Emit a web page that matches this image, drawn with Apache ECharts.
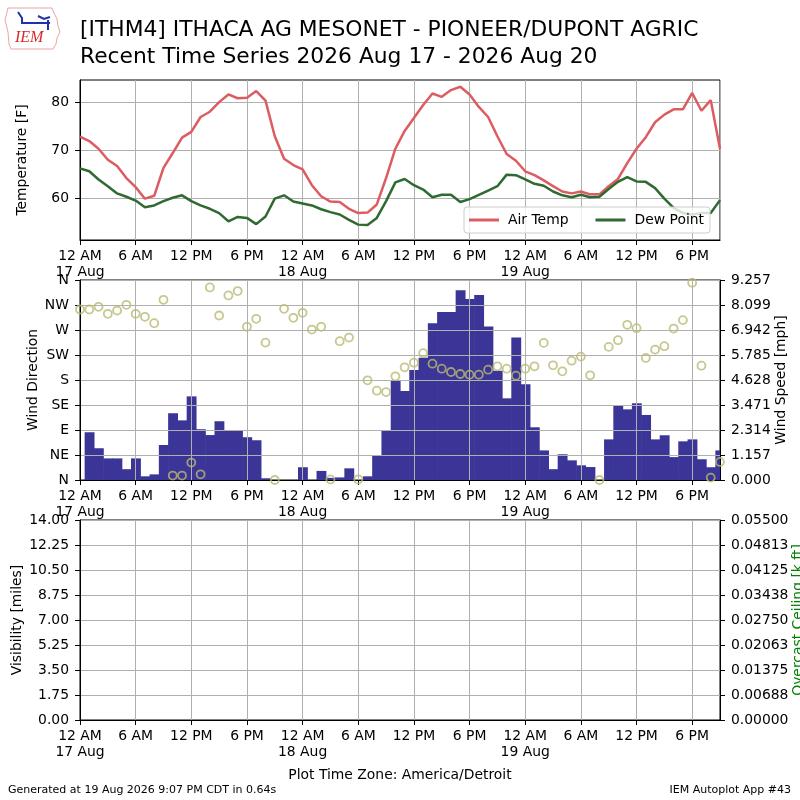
<!DOCTYPE html>
<html style="height: 100%">
<head>
    <meta charset="utf-8">
    <script type="text/javascript" src="https://cdn.jsdelivr.net/npm/echarts@6.0.0/dist/echarts.min.js"></script>
</head>
<body style="height: 100%; margin: 0; background-color: #fff;">
    <div id="main" style="width: 800px; height: 800px;"></div>
<script>
var FONT = '"DejaVu Sans", sans-serif';

// hours since 12 AM 17 Aug (local)
var obsHours = [0, 1, 2, 3, 4, 5, 6, 7, 8, 9, 10, 11, 12, 13, 14, 15, 16, 17, 18, 19,
    20, 21, 22, 23, 24, 25, 26, 27, 28, 29, 30, 31, 32, 33, 34, 35, 36, 37, 38, 39,
    40, 41, 42, 43, 44, 45, 46, 47, 48, 49, 50, 51, 52, 53, 54, 55, 56, 57, 58, 59,
    60, 61, 62, 63, 64, 65, 66, 67, 68, 69];

var airTemp = [72.8, 71.9, 70.3, 68.0, 66.7, 64.2, 62.3, 59.9, 60.5, 66.3,
    69.4, 72.6, 73.8, 76.9, 78.0, 80.0, 81.6, 80.8, 80.9, 82.3,
    80.3, 72.9, 68.2, 66.9, 66.0, 62.7, 60.4, 59.3, 59.2, 57.8,
    56.9, 57.0, 58.7, 64.2, 70.3, 74.0, 76.7, 79.4, 81.8, 81.1,
    82.5, 83.2, 81.6, 79.0, 76.9, 72.9, 69.2, 67.8, 65.6, 64.8,
    63.7, 62.5, 61.4, 61.0, 61.4, 60.8, 60.8, 62.5, 64.0, 67.3,
    70.3, 72.7, 75.8, 77.4, 78.5, 78.5, 81.9, 78.2, 80.4, 70.3];

var dewPoint = [66.2, 65.6, 63.9, 62.5, 61.0, 60.3, 59.5, 58.1, 58.5, 59.4,
    60.1, 60.6, 59.4, 58.5, 57.8, 56.9, 55.2, 56.1, 55.9, 54.6,
    56.2, 59.9, 60.6, 59.3, 58.9, 58.5, 57.7, 57.1, 56.6, 55.5,
    54.5, 54.4, 55.9, 59.4, 63.3, 64.0, 62.7, 61.8, 60.2, 60.7,
    60.7, 59.2, 59.8, 60.7, 61.6, 62.5, 64.9, 64.8, 63.9, 63.0,
    62.6, 61.4, 60.6, 60.2, 60.7, 60.2, 60.3, 61.9, 63.4, 64.4,
    63.5, 63.4, 62.1, 59.9, 58.0, 56.9, 56.6, 56.9, 56.9, 59.6];

var windSpeed = [0, 2.21, 1.47, 1.00, 1.00, 0.50, 1.00, 0.17, 0.26, 1.62,
    3.09, 2.76, 3.87, 2.35, 2.08, 2.72, 2.29, 2.29, 1.98, 1.84,
    0.08, 0, 0, 0, 0.59, 0, 0.42, 0.10, 0.12, 0.54,
    0, 0.17, 1.11, 2.29, 4.58, 4.12, 5.09, 5.66, 7.25, 7.78,
    7.78, 8.78, 8.38, 8.56, 7.11, 5.06, 3.78, 6.60, 4.43, 2.44,
    1.37, 0.50, 1.19, 0.91, 0.68, 0.60, 0, 1.88, 3.43, 3.27,
    3.55, 3.01, 1.88, 2.07, 1.06, 1.79, 1.88, 0.96, 0.59, 1.37];

var windDir = [306.9, 306.9, 311.8, 299.2, 305.1, 315.4, 299.2, 293.7, 282.3, 324.4,
    8.0, 8.0, 31.4, 10.2, 346.6, 296.1, 332.2, 340.1, 275.7, 290.1,
    247.3, 0, 308.2, 291.9, 301.0, 270.8, 275.7, 1, 249.8, 256.4,
    1, 179.5, 160.7, 158.3, 186.7, 202.9, 211.2, 228.2, 209.4, 200.4,
    194.4, 190.8, 189.6, 189.6, 198.6, 204.7, 200.4, 187.8, 200.4, 204.7,
    246.8, 206.5, 195.7, 214.8, 222.1, 188.5, 0, 239.6, 251.7, 279.3,
    273.3, 219.7, 234.7, 240.8, 272.6, 287.8, 355.1, 205.8, 4.3, 32.5];

var xTickLabels = ['12 AM\n17 Aug', '6 AM', '12 PM', '6 PM',
    '12 AM\n18 Aug', '6 AM', '12 PM', '6 PM',
    '12 AM\n19 Aug', '6 AM', '12 PM', '6 PM'];
var tempTicks = [60, 70, 80];
var dirLabels = ['N', 'NE', 'E', 'SE', 'S', 'SW', 'W', 'NW', 'N'];
var speedLabels = ['0.000', '1.157', '2.314', '3.471', '4.628', '5.785', '6.942', '8.099', '9.257'];
var visLabels = ['0.00', '1.75', '3.50', '5.25', '7.00', '8.75', '10.50', '12.25', '14.00'];
var ceilLabels = ['0.00000', '0.00688', '0.01375', '0.02063', '0.02750', '0.03438', '0.04125', '0.04813', '0.05500'];

var SPEED_MAX = 9.257, CEIL_MAX = 0.055;

function pairs(ys) {
    return obsHours.map(function (h, i) { return [h, ys[i]]; });
}

var labelStyle = { color: '#000', fontSize: 13.9, fontFamily: FONT };

function makeX(idx) {
    return {
        type: 'value', gridIndex: idx, min: 0, max: 69, interval: 6, z: 3,
        axisLine: { show: true, onZero: false, lineStyle: { color: '#000', width: 1 } },
        axisTick: { length: 5, lineStyle: { color: '#000' } },
        axisLabel: Object.assign({}, labelStyle, {
            margin: 8, lineHeight: 16, showMaxLabel: false,
            formatter: function (v) { return xTickLabels[Math.round(v / 6)] || ''; }
        }),
        splitLine: { show: true, lineStyle: { color: '#b0b0b0', width: 1 } }
    };
}

function makeY(o) {
    return Object.assign({
        type: 'value', z: 3,
        nameLocation: 'middle', nameRotate: 90, nameMoveOverlap: false,
        nameTextStyle: { color: '#000', fontSize: 13.9, fontFamily: FONT },
        axisLine: { show: true, onZero: false, lineStyle: { color: '#000', width: 1 } },
        axisTick: { length: 5, lineStyle: { color: '#000' } },
        splitLine: { show: true, lineStyle: { color: '#b0b0b0', width: 1 } }
    }, o);
}

// hourly wind speed bars, one hour wide, centred on the observation
function renderSpeedBar(params, api) {
    var h = api.value(0);
    var top = api.coord([h - 0.5, api.value(1)]);
    var base = api.coord([h + 0.5, 0]);
    var rect = echarts.graphic.clipRectByRect({
        x: top[0], y: top[1],
        width: base[0] - top[0] + 0.6, height: base[1] - top[1]
    }, {
        x: params.coordSys.x, y: params.coordSys.y,
        width: params.coordSys.width, height: params.coordSys.height
    });
    return rect && {
        type: 'rect', shape: rect,
        style: { fill: '#3a3596' }
    };
}

var chartDom = document.getElementById('main');
var myChart = echarts.init(chartDom, null, { renderer: 'canvas' });

var gridBase = { left: 80, right: 80, height: 0, show: true, borderColor: '#000', borderWidth: 1,
    containLabel: false, outerBoundsMode: 'none' };

var option = {
    animation: false,
    backgroundColor: '#fff',
    grid: [
        Object.assign({}, gridBase, { top: 80, height: 160 }),
        Object.assign({}, gridBase, { top: 280, height: 200 }),
        Object.assign({}, gridBase, { top: 520, height: 200 })
    ],
    xAxis: [makeX(0), makeX(1), makeX(2)],
    yAxis: [
        makeY({
            gridIndex: 0, position: 'left', min: 51.3, max: 84.6,
            name: 'Temperature [F]', nameGap: 51,
            axisTick: { length: 5, lineStyle: { color: '#000' }, customValues: tempTicks },
            axisLabel: Object.assign({}, labelStyle, { margin: 11, customValues: tempTicks })
        }),
        makeY({
            gridIndex: 1, position: 'left', min: 0, max: 360, interval: 45,
            name: 'Wind Direction', nameGap: 40,
            axisLabel: Object.assign({}, labelStyle, {
                margin: 11,
                formatter: function (v) { return dirLabels[Math.round(v / 45)]; }
            })
        }),
        makeY({
            gridIndex: 1, position: 'right', min: 0, max: SPEED_MAX, interval: SPEED_MAX / 8,
            name: 'Wind Speed [mph]', nameGap: 54,
            splitLine: { show: false },
            axisLabel: Object.assign({}, labelStyle, {
                margin: 11,
                formatter: function (v) { return speedLabels[Math.round(v / (SPEED_MAX / 8))]; }
            })
        }),
        makeY({
            gridIndex: 2, position: 'left', min: 0, max: 14, interval: 1.75,
            name: 'Visibility [miles]', nameGap: 56,
            axisLabel: Object.assign({}, labelStyle, {
                margin: 11,
                formatter: function (v) { return visLabels[Math.round(v / 1.75)]; }
            })
        }),
        makeY({
            gridIndex: 2, position: 'right', min: 0, max: CEIL_MAX, interval: CEIL_MAX / 8,
            name: 'Overcast Ceiling [k ft]', nameGap: 71,
            nameTextStyle: { color: '#008000', fontSize: 13.9, fontFamily: FONT },
            splitLine: { show: false },
            axisLabel: Object.assign({}, labelStyle, {
                margin: 11,
                formatter: function (v) { return ceilLabels[Math.round(v / (CEIL_MAX / 8))]; }
            })
        })
    ],
    legend: {
        left: 464, top: 207,
        orient: 'horizontal',
        padding: [6, 6, 6, 5],
        itemWidth: 30, itemHeight: 3, itemGap: 27,
        icon: 'rect',
        backgroundColor: 'rgba(255,255,255,0.8)',
        borderColor: '#cccccc', borderWidth: 1, borderRadius: 3,
        textStyle: { color: '#000', fontSize: 13.9, fontFamily: FONT, padding: [0, 0, 0, 4] },
        z: 10,
        data: ['Air Temp', 'Dew Point']
    },
    graphic: [
        // IEM logo (rough)
        { type: 'polygon', shape: { points: [[8, 8], [52, 8], [54, 13], [57, 19], [58, 26], [60, 32], [57, 38], [56, 44], [53, 49], [11, 49], [9, 44], [8, 32], [5, 20], [7, 12]] },
          style: { fill: 'none', stroke: '#eba5a5', lineWidth: 1 } },
        { type: 'polyline', shape: { points: [[18, 12], [22, 18], [22, 23], [50, 23]] }, style: { stroke: '#2430a8', lineWidth: 2, fill: 'none' } },
        { type: 'polyline', shape: { points: [[38, 16], [44, 19], [50, 17]] }, style: { stroke: '#2430a8', lineWidth: 2, fill: 'none' } },
        { type: 'polyline', shape: { points: [[48, 20], [48, 30]] }, style: { stroke: '#2430a8', lineWidth: 2, fill: 'none' } },
        { type: 'text', left: 15, top: 30, style: { text: 'IEM', font: 'italic 16px "Liberation Serif", serif', fill: '#d42a2a' } },
        // title
        { type: 'text', left: 80, top: 19, style: { text: '[ITHM4] ITHACA AG MESONET - PIONEER/DUPONT AGRIC', font: '21.8px ' + FONT, fill: '#000' } },
        { type: 'text', left: 80, top: 46, style: { text: 'Recent Time Series 2026 Aug 17 - 2026 Aug 20', font: '21.8px ' + FONT, fill: '#000' } },
        // footer
        { type: 'text', left: 'center', top: 768, style: { text: 'Plot Time Zone: America/Detroit', font: '13.9px ' + FONT, fill: '#000' } },
        { type: 'text', left: 8, top: 785, style: { text: 'Generated at 19 Aug 2026 9:07 PM CDT in 0.64s', font: '11px ' + FONT, fill: '#000' } },
        { type: 'text', right: 9, top: 785, style: { text: 'IEM Autoplot App #43', font: '11px ' + FONT, fill: '#000' } }
    ],
    series: [
        {
            name: 'Air Temp', type: 'line', xAxisIndex: 0, yAxisIndex: 0,
            data: pairs(airTemp), symbol: 'none', z: 4,
            itemStyle: { color: '#dc5c61' },
            lineStyle: { color: '#dc5c61', width: 2.5 }
        },
        {
            name: 'Dew Point', type: 'line', xAxisIndex: 0, yAxisIndex: 0,
            data: pairs(dewPoint), symbol: 'none', z: 4,
            itemStyle: { color: '#2f6a30' },
            lineStyle: { color: '#2f6a30', width: 2.5 }
        },
        {
            name: 'Wind Speed', type: 'custom', xAxisIndex: 1, yAxisIndex: 2,
            data: pairs(windSpeed), renderItem: renderSpeedBar, z: 2,
            encode: { x: 0, y: 1 }
        },
        {
            name: 'Wind Direction', type: 'scatter', xAxisIndex: 1, yAxisIndex: 1,
            data: pairs(windDir), symbol: 'circle', symbolSize: 8, z: 5,
            itemStyle: { color: 'rgba(0,0,0,0)', borderColor: '#b9b972', borderWidth: 1.8 }
        }
    ]
};

myChart.setOption(option);
</script>
</body>
</html>
